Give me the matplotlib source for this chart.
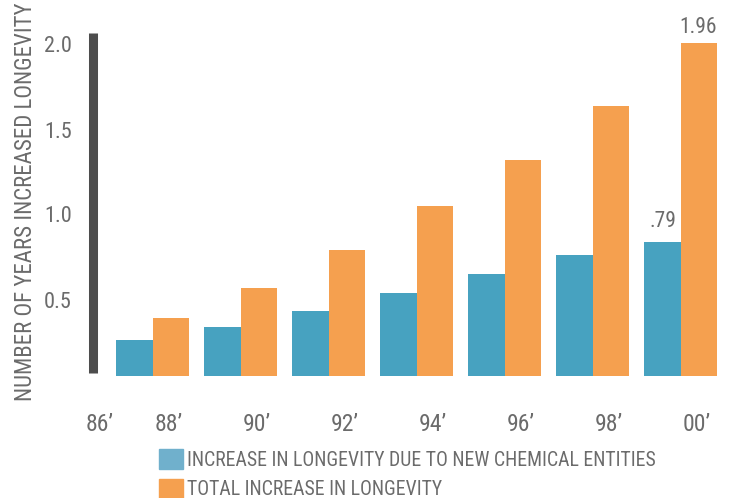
import matplotlib
matplotlib.use('Agg')
import matplotlib.pyplot as plt
import matplotlib.transforms as mtransforms
from matplotlib.patches import Patch
from matplotlib import font_manager

# condensed face like the original; fall back if missing
names = set(f.name for f in font_manager.fontManager.ttflist)
prefer = ['Roboto Condensed', 'Liberation Sans Narrow', 'Archivo Narrow', 'Barlow Semi Condensed', 'DejaVu Sans']
fams = [n for n in prefer if n in names] or ['DejaVu Sans']
plt.rcParams['font.family'] = fams

years = ["86’", "88’", "90’", "92’", "94’", "96’", "98’", "00’"]
nce = [0.21, 0.29, 0.38, 0.49, 0.60, 0.71, 0.79]     # due to new chemical entities
total = [0.34, 0.52, 0.74, 1.00, 1.27, 1.59, 1.96]   # total increase
yticks = [0.5, 1.0, 1.5, 2.0]

grey = '#6b6b6b'
blue = '#47a2c0'
orange = '#f5a04f'

fig = plt.figure(figsize=(7.35, 4.98), dpi=100)
# axes: left px 92.5 .. 735, bottom px 376, 170 px per unit, 88 px per group
ax = fig.add_axes([92.5/735, 122/498, 642.5/735, 357/498])
ax.set_xlim((92.5-116)/88, (735-116)/88)
ax.set_ylim(0, 2.1)

x = list(range(len(nce)))
ax.bar(x, nce, width=0.443, align='edge', color=blue, zorder=2)
ax.bar([i + 0.42 for i in x], total, width=0.409, align='edge', color=orange, zorder=3)

# value labels for the last group
ax.annotate('.79', (x[-1] + 0.215, nce[-1]), xytext=(0, 10.8), textcoords='offset points',
            ha='center', va='baseline', fontsize=15.5, color=grey)
ax.annotate('%.2f' % total[-1], (x[-1] + 0.62, total[-1]), xytext=(0, 7.2), textcoords='offset points',
            ha='center', va='baseline', fontsize=15.5, color=grey)

for s in ['top', 'right', 'bottom']:
    ax.spines[s].set_visible(False)
ax.spines['left'].set_bounds(0.02, 2.02)
ax.spines['left'].set_linewidth(6.5)
ax.spines['left'].set_color('#4d4d4d')
ax.spines['left'].set_capstyle('butt')

ax.set_yticks(yticks)
ax.set_yticklabels(['%.1f' % v for v in yticks])
ax.tick_params(axis='y', length=0, pad=15, labelsize=16, labelcolor=grey)
off = mtransforms.ScaledTranslation(0, -8.5/100, fig.dpi_scale_trans)
for lab in ax.get_yticklabels():
    lab.set_transform(lab.get_transform() + off)

xpos = [-0.19] + [i + 0.6 for i in x]
ax.set_xticks(xpos)
ax.set_xticklabels(years)
ax.tick_params(axis='x', length=0, pad=26.5, labelsize=17, labelcolor=grey)

fig.text(26/735, 1 - 202/498, 'NUMBER OF YEARS INCREASED LONGEVITY', rotation=90,
         ha='center', va='center', fontsize=16.5, color=grey)

handles = [Patch(color='#70b0cc'), Patch(color=orange)]
labels = ['INCREASE IN LONGEVITY DUE TO NEW CHEMICAL ENTITIES', 'TOTAL INCREASE IN LONGEVITY']
leg = fig.legend(handles, labels, loc='upper left', bbox_to_anchor=(159/735, 1 - 449/498),
                 frameon=False, fontsize=14.2, handlelength=1.2, handleheight=1.2,
                 handletextpad=0.2, labelspacing=0.45, borderpad=0, borderaxespad=0)
for t in leg.get_texts():
    t.set_color(grey)

fig.savefig('out.png', dpi=100)
